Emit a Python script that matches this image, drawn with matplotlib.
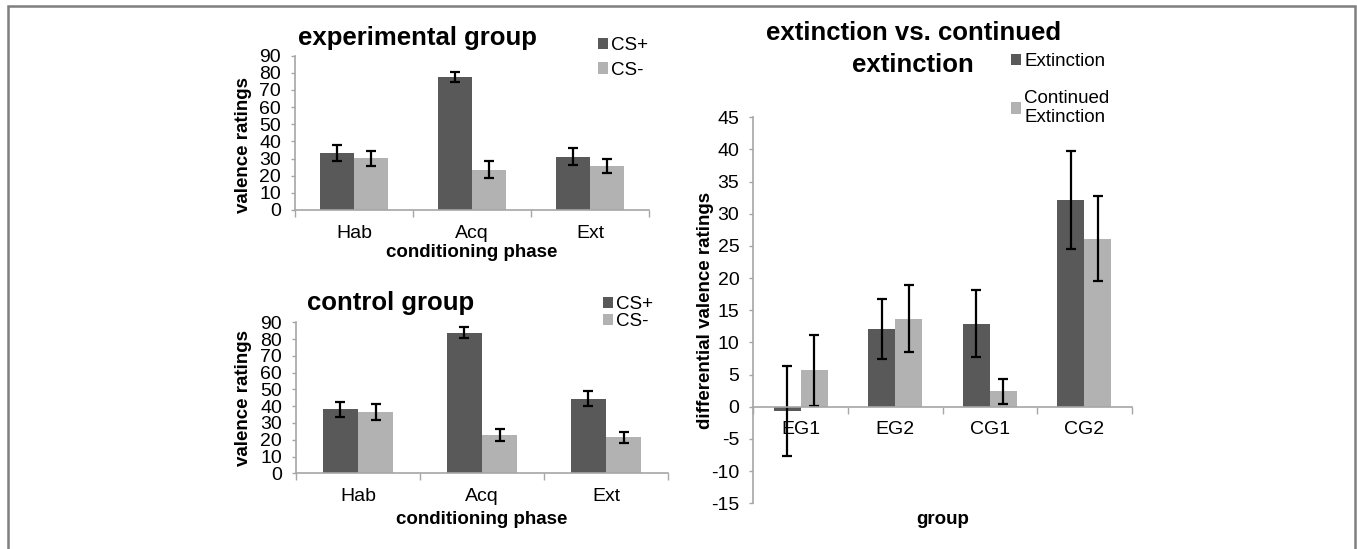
import numpy as np
import matplotlib
matplotlib.use("Agg")
import matplotlib.pyplot as plt
from matplotlib.patches import Rectangle

plt.rcParams['font.family'] = ['Liberation Sans', 'DejaVu Sans']
plt.rcParams['axes.unicode_minus'] = False

# ---- data ----
phases = ['Hab', 'Acq', 'Ext']
exp_csplus = [33.5, 77.6, 31.2]
exp_csplus_err = [4.7, 3.0, 5.0]
exp_csminus = [30.2, 23.4, 25.7]
exp_csminus_err = [4.4, 4.9, 4.0]

ctrl_csplus = [38.1, 83.9, 44.5]
ctrl_csplus_err = [4.3, 3.5, 4.6]
ctrl_csminus = [36.4, 22.7, 21.5]
ctrl_csminus_err = [4.7, 3.6, 3.4]

groups = ['EG1', 'EG2', 'CG1', 'CG2']
extinction = [-0.6, 12.1, 12.9, 32.2]
extinction_err = [7.0, 4.65, 5.2, 7.6]
continued = [5.7, 13.7, 2.4, 26.1]
continued_err = [5.5, 5.2, 1.95, 6.6]

DARK = '#595959'
LIGHT = '#b2b2b2'
AXC = '#a6a6a6'
W, H = 1357, 549
TICK_FS = 14
LAB_FS = 13.5
TITLE_FS = 18.5

fig = plt.figure(figsize=(W / 100, H / 100), dpi=100)


def px_axes(x0, x1, ytop, ybot):
    return fig.add_axes([x0 / W, 1 - ybot / H, (x1 - x0) / W, (ybot - ytop) / H])


def draw(ax, cats, s1, e1, s2, e2, l1, l2, ylim, yticks):
    n = len(cats)
    x = np.arange(n)
    w = 0.285
    ekw = dict(elinewidth=1.6, capthick=1.6, ecolor='black')
    b1 = ax.bar(x - w / 2, s1, w, color=DARK, yerr=e1, capsize=3.3, error_kw=ekw, label=l1)
    b2 = ax.bar(x + w / 2, s2, w, color=LIGHT, yerr=e2, capsize=3.3, error_kw=ekw, label=l2)
    ax.set_xlim(-0.5, n - 0.5)
    ax.set_ylim(*ylim)
    ax.set_yticks(yticks)
    ax.set_xticks(np.arange(n + 1) - 0.5)
    ax.set_xticks(x, minor=True)
    ax.set_xticklabels(cats, minor=True)
    ax.tick_params(axis='x', which='major', length=5, color=AXC, labelbottom=False, width=1)
    ax.tick_params(axis='x', which='minor', length=0, pad=10.5, labelsize=TICK_FS)
    ax.tick_params(axis='y', length=3, color=AXC, pad=7, labelsize=TICK_FS, width=1)
    for s in ['top', 'right']:
        ax.spines[s].set_visible(False)
    for s in ['left', 'bottom']:
        ax.spines[s].set_color(AXC)
        ax.spines[s].set_linewidth(1.2)
    return b1, b2


LEG = dict(frameon=False, fontsize=13.5, handlelength=0.55, handleheight=0.55,
           handletextpad=0.15, borderpad=0, borderaxespad=0)

# top-left: experimental group
ax1 = px_axes(295, 649, 55.7, 210)
draw(ax1, phases, exp_csplus, exp_csplus_err, exp_csminus, exp_csminus_err,
     'CS+', 'CS-', (0, 90), np.arange(0, 91, 10))
ax1.set_title('experimental group', fontsize=TITLE_FS, fontweight='bold', x=0.347, y=1.115,
              va='center', pad=0)
ax1.set_ylabel('valence ratings', fontsize=LAB_FS, fontweight='bold', va='center')
ax1.yaxis.set_label_coords(-0.145, 0.42)
ax1.set_xlabel('conditioning phase', fontsize=LAB_FS, fontweight='bold', va='center')
ax1.xaxis.set_label_coords(0.5, -0.278)
ax1.legend(loc='center left', bbox_to_anchor=(598 / W, 1 - 58 / H), bbox_transform=fig.transFigure,
           labelspacing=0.4, **LEG)

# bottom-left: control group
ax2 = px_axes(296, 668, 322.3, 473.3)
draw(ax2, phases, ctrl_csplus, ctrl_csplus_err, ctrl_csminus, ctrl_csminus_err,
     'CS+', 'CS-', (0, 90), np.arange(0, 91, 10))
ax2.set_title('control group', fontsize=TITLE_FS, fontweight='bold', x=0.255, y=1.128,
              va='center', pad=0)
ax2.set_ylabel('valence ratings', fontsize=LAB_FS, fontweight='bold', va='center')
ax2.yaxis.set_label_coords(-0.14, 0.5)
ax2.set_xlabel('conditioning phase', fontsize=LAB_FS, fontweight='bold', va='center')
ax2.xaxis.set_label_coords(0.5, -0.303)
ax2.legend(loc='center left', bbox_to_anchor=(603 / W, 1 - 313 / H), bbox_transform=fig.transFigure,
           labelspacing=0.0, **LEG)

# right: extinction vs continued extinction
ax3 = px_axes(753.3, 1131.7, 117.3, 503.3)
draw(ax3, groups, extinction, extinction_err, continued, continued_err,
     'Extinction', 'Continued\nExtinction', (-15, 45), np.arange(-15, 46, 5))
ax3.spines['bottom'].set_position(('data', 0))
ax3.set_title('extinction vs. continued', fontsize=TITLE_FS, fontweight='bold',
              x=0.423, y=1.218, va='center', pad=0)
ax3.text(0.423, 1.135, 'extinction', transform=ax3.transAxes, fontsize=TITLE_FS,
         fontweight='bold', ha='center', va='center')
ax3.set_ylabel('differential valence ratings', fontsize=LAB_FS, fontweight='bold', va='center')
ax3.yaxis.set_label_coords(-0.125, 0.5)
ax3.set_xlabel('group', fontsize=LAB_FS, fontweight='bold', va='center')
ax3.xaxis.set_label_coords(0.5, -0.041)
ax3.legend(loc='upper left', bbox_to_anchor=(1011 / W, 1 - 53 / H), bbox_transform=fig.transFigure,
           labelspacing=1.05, **LEG)

# outer frame
fig.add_artist(Rectangle((7.5 / W, -0.2), (1355 - 7.5) / W, 1.2 - 5.5 / H, transform=fig.transFigure,
                         fill=False, edgecolor='#7f7f7f', linewidth=1.8, clip_on=False))

fig.savefig('out.png', dpi=100)
